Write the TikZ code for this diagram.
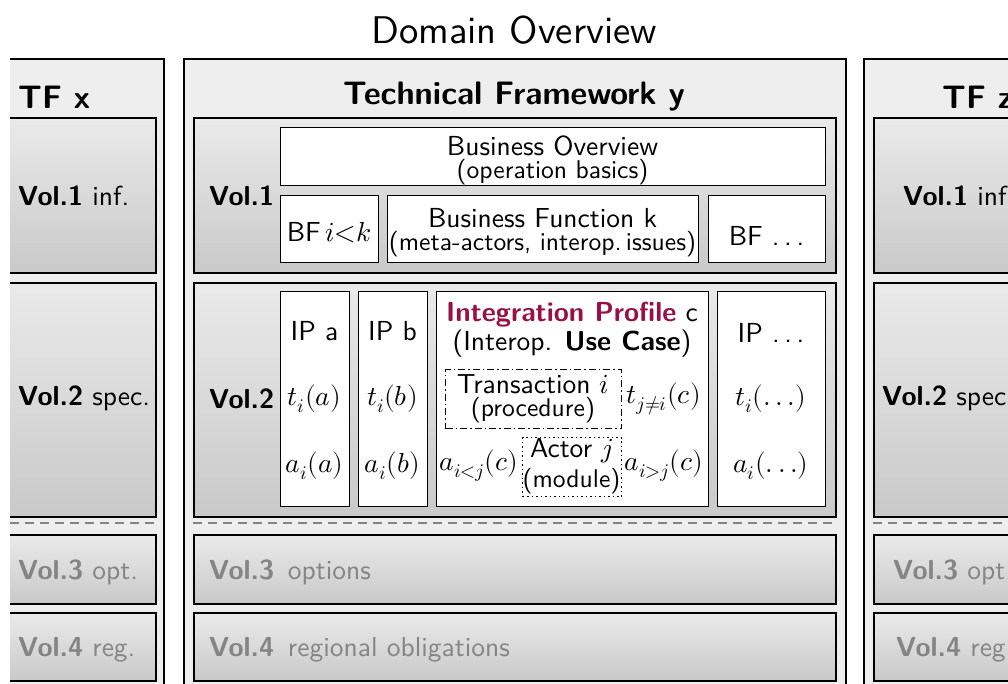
\documentclass[tikz,border=0pt]{standalone}
\usepackage{fontspec}
\usepackage{unicode-math}
\setmathfont{Latin Modern Math}
\setsansfont{lmsans10-regular.otf}[BoldFont=lmsans10-bold.otf, ItalicFont=lmsans10-oblique.otf, BoldItalicFont=lmsans10-boldoblique.otf]
\newcommand\mydots{.\kern.17em.\kern.17em.}
\definecolor{framebg}{HTML}{EEEEEE}
\definecolor{voltop}{HTML}{EAEAEA}
\definecolor{volbot}{HTML}{C9C9C9}
\definecolor{optgray}{HTML}{858585}
\definecolor{ipcolor}{HTML}{990F47}
\tikzset{
  tfframe/.style={draw=black, line width=1.6pt, fill=framebg, anchor=north west, inner sep=0pt},
  volbox/.style={draw=black, line width=1.6pt, top color=voltop, bottom color=volbot, anchor=north west, inner sep=0pt},
  wbox/.style={draw=black, line width=1.4pt, fill=white, anchor=north west, inner sep=0pt},
  txt/.style={inner sep=0pt, font=\fontsize{27.5}{30}\selectfont\sffamily},
  sml/.style={inner sep=0pt, font=\fontsize{25.6}{26}\selectfont\sffamily},
  head/.style={inner sep=0pt, font=\fontsize{32.5}{36}\selectfont\sffamily\bfseries},
  gtxt/.style={txt, text=optgray},
  sep/.style={draw=optgray, line width=1.2pt, dash pattern=on 9pt off 6pt},
}
\begin{document}
\begin{tikzpicture}[x=1pt,y=-1pt]
\useasboundingbox (0,0) rectangle (1008,684);
\clip (10,0) rectangle (1008,684);
% title
\node[inner sep=0pt, font=\fontsize{38.6}{40}\selectfont\sffamily] (title) at (514,30) {Domain Overview};
% frames
\node[tfframe, minimum width=240pt, minimum height=660pt] (tfx) at (-77,58) {};
\node[tfframe, minimum width=662pt, minimum height=660pt] (tfy) at (183,58) {};
\node[tfframe, minimum width=240pt, minimum height=660pt] (tfz) at (863,58) {};
% headings
\node[head, anchor=west] (hx) at (18,97) {TF x};
\node[head] (hy) at (514,97) {Technical Framework y};
\node[head, anchor=west] (hz) at (942,97) {TF z};
% TF x volumes
\node[volbox, minimum width=220pt, minimum height=155pt] (x1) at (-65,117) {};
\node[volbox, minimum width=220pt, minimum height=234pt] (x2) at (-65,282) {};
\node[volbox, minimum width=220pt, minimum height=69pt] (x3) at (-65,534) {};
\node[volbox, minimum width=220pt, minimum height=68pt] (x4) at (-65,612) {};
\node[txt, anchor=west] (x1t) at (18,196) {\textbf{Vol.1} inf.};
\node[txt, anchor=west] (x2t) at (18,398) {\textbf{Vol.2} spec.};
\node[gtxt, anchor=west] (x3t) at (18,572) {\textbf{Vol.3} opt.};
\node[gtxt, anchor=west] (x4t) at (18,650) {\textbf{Vol.4} reg.};
\coordinate (xs1) at (10,523); \coordinate (xs2) at (155,523);
\draw[sep] (xs1) -- (xs2);
% TF z volumes
\node[volbox, minimum width=220pt, minimum height=155pt] (z1) at (873,117) {};
\node[volbox, minimum width=220pt, minimum height=234pt] (z2) at (873,282) {};
\node[volbox, minimum width=220pt, minimum height=69pt] (z3) at (873,534) {};
\node[volbox, minimum width=220pt, minimum height=68pt] (z4) at (873,612) {};
\node[txt, anchor=west] (z1t) at (903,196) {\textbf{Vol.1} inf.};
\node[txt, anchor=west] (z2t) at (882,398) {\textbf{Vol.2} spec.};
\node[gtxt, anchor=west] (z3t) at (893,572) {\textbf{Vol.3} opt.};
\node[gtxt, anchor=west] (z4t) at (896,650) {\textbf{Vol.4} reg.};
\coordinate (zs1) at (873,523); \coordinate (zs2) at (1008,523);
\draw[sep] (zs1) -- (zs2);
% TF y volumes
\node[volbox, minimum width=642pt, minimum height=155pt] (y1) at (193,117) {};
\node[volbox, minimum width=642pt, minimum height=234pt] (y2) at (193,282) {};
\node[volbox, minimum width=642pt, minimum height=69pt] (y3) at (193,534) {};
\node[volbox, minimum width=642pt, minimum height=68pt] (y4) at (193,612) {};
\coordinate (ys1) at (193,523); \coordinate (ys2) at (835,523);
\draw[sep] (ys1) -- (ys2);
\node[txt, anchor=west] (y1t) at (209,196) {\textbf{Vol.1}};
\node[txt, anchor=west] (y2t) at (209,399) {\textbf{Vol.2}};
\node[gtxt, anchor=west] (y3t) at (209,572) {\textbf{Vol.3}\, options};
\node[gtxt, anchor=west] (y4t) at (209,650) {\textbf{Vol.4}\, regional obligations};
% Vol.1 content
\node[wbox, minimum width=545pt, minimum height=58pt] (bo) at (280,127) {};
\node[txt] (bot) at (552.5,146) {Business Overview};
\node[sml] (bos) at (552.5,172) {(operation basics)};
\node[wbox, minimum width=98pt, minimum height=67pt] (bf1) at (280,195) {};
\node[txt] (bf1t) at (329,233) {BF\,$i{<}k$};
\node[wbox, minimum width=311pt, minimum height=67pt] (bfk) at (387,195) {};
\node[txt] (bfkt) at (542.5,218) {Business Function k};
\node[sml] (bfks) at (542.5,244) {(meta-actors, interop.\,issues)};
\node[wbox, minimum width=117pt, minimum height=67pt] (bfd) at (708,195) {};
\node[txt] (bfdt) at (766.5,236) {BF \mydots};
% Vol.2 content
\node[wbox, minimum width=69pt, minimum height=215pt] (ipa) at (280,291) {};
\node[txt] (ipat) at (314.5,331) {IP a};
\node[txt] (ipam) at (314.5,399) {$t_i(a)$};
\node[txt] (ipaa) at (314.5,466) {$a_i(a)$};
\node[wbox, minimum width=69pt, minimum height=215pt] (ipb) at (358,291) {};
\node[txt] (ipbt) at (392.5,331) {IP b};
\node[txt] (ipbm) at (392.5,399) {$t_i(b)$};
\node[txt] (ipba) at (392.5,466) {$a_i(b)$};
\node[wbox, minimum width=272pt, minimum height=215pt] (ipc) at (436,291) {};
\node[txt] (ipct) at (572,315) {\textcolor{ipcolor}{\textbf{Integration Profile}} c};
\node[txt] (ipcs) at (572,344) {(Interop. \textbf{Use Case})};
\node[draw=black, line width=1.4pt, dash pattern=on 7pt off 3pt on 1.5pt off 3pt, anchor=north west, inner sep=0pt, minimum width=176pt, minimum height=59pt] (tr) at (445,369) {};
\node[txt] (trt) at (533,384) {Transaction $i$};
\node[sml] (trs) at (533,410) {(procedure)};
\node[txt] (tji) at (664,399) {$t_{j\neq i}(c)$};
\node[draw=black, line width=1.4pt, dash pattern=on 1.5pt off 3pt, anchor=north west, inner sep=0pt, minimum width=99pt, minimum height=59pt] (ac) at (522,437) {};
\node[txt] (act) at (571.5,451) {Actor $j$};
\node[sml] (acs) at (571.5,481) {(module)};
\node[txt] (ail) at (479,466) {$a_{i<j}(c)$};
\node[txt] (aig) at (664,466) {$a_{i>j}(c)$};
\node[wbox, minimum width=108pt, minimum height=215pt] (ipd) at (717,291) {};
\node[txt] (ipdt) at (771,333) {IP \mydots};
\node[txt] (ipdm) at (771,399) {$t_i(.\,.\,.)$};
\node[txt] (ipda) at (771,466) {$a_i(.\,.\,.)$};
\end{tikzpicture}
\end{document}
